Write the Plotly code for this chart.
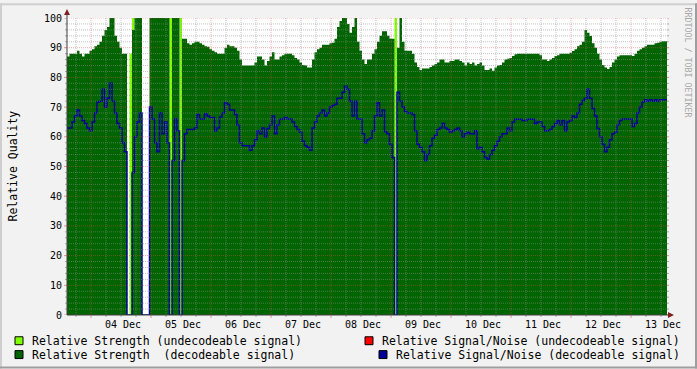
import plotly.graph_objects as go
import pandas as pd

# ---------------- data (hourly samples) ----------------
START = pd.Timestamp("2023-12-03 14:24")

strength_decodeable = [
    87, 88, 88, 88, 89, 88, 87, 88, 88, 89,
    89.5, 90.5, 91, 92, 94, 96, 97, 100, 100, 94,
    92, 90, 88, 88, 0, 0, 96, 100, 100, 100,
    0, 0, 0, 100, 100, 100, 100, 100, 100, 100,
    100, 0, 100, 100, 100, 0, 93, 93, 91.5, 91,
    91.5, 92, 92, 91.5, 91, 90.5, 90.3, 89.5, 89, 88.5,
    88, 88, 88, 90, 91, 90.5, 90.5, 90, 89, 86,
    84, 84, 84, 84, 84, 85, 87, 87, 86, 84,
    85.5, 87, 88.5, 86, 86, 87, 87.5, 88, 88, 88,
    87.5, 86.5, 86, 85, 84.2, 84, 83.3, 83.3, 86, 88.5,
    89.5, 90, 91, 91, 91, 91.5, 91.7, 93, 97, 99,
    100, 100, 98, 95, 97, 100, 92, 89, 86, 84.5,
    86, 86, 88, 89.5, 92, 94, 95.5, 95.5, 94, 93,
    93, 0, 90, 100, 92, 89, 89, 89, 88, 85,
    83.5, 82.5, 83, 83, 83, 83.5, 84, 84.5, 85, 86,
    86, 85, 85, 85.5, 85.5, 86, 86, 85.5, 85, 84,
    85, 84.5, 85, 84, 84.5, 85, 84, 82.5, 82.5, 83,
    82.2, 83.3, 84, 84.2, 85, 86, 86.3, 86.5, 87.2, 87.8,
    88, 88, 88, 88, 88, 88, 88, 88, 88, 87.5,
    86, 86, 85.5, 86, 86.5, 87.2, 87.5, 88, 88, 88,
    88, 88.3, 88.9, 89.5, 90.5, 91, 92, 96, 95, 93.9,
    91.5, 90, 88, 86, 84.2, 83.3, 82.8, 83.5, 85, 86,
    87, 87.5, 87.5, 87.5, 87.5, 87.5, 87.2, 88, 89, 89.5,
    90, 90.5, 91, 91, 91, 91.5, 91.7, 92, 92.2, 92.2,
]

snr_decodeable = [
    63, 63, 65, 67, 69, 67, 65.5, 64.5, 63, 62,
    65, 68, 71.7, 72, 76, 70, 73, 78, 72, 68,
    64.5, 63, 58, 55, 0, 0, 48, 60, 65, 68,
    0, 0, 0, 70, 66, 58, 55, 68, 61, 65,
    58, 0, 52, 66, 62, 0, 52, 61, 62.5, 62.5,
    62.5, 63, 67.5, 66, 66, 67.8, 67, 66.5, 66.5, 62,
    63, 66.7, 68, 71.5, 71, 69, 69, 67.5, 64, 58,
    57, 57, 57, 55.5, 57, 59, 62, 61, 63, 60,
    62.8, 64, 67, 61, 64, 66, 66, 66.5, 66, 66,
    65, 63.5, 62.5, 61.5, 58.5, 57, 56.5, 55.5, 63, 65,
    67, 68, 69, 67, 68, 70, 70.5, 71, 73, 73,
    75, 77, 76, 72, 67, 72, 66, 66, 61, 58,
    59, 59.5, 62, 67, 71.5, 67, 69, 61.7, 61, 57.5,
    53, 0, 75, 72, 70, 68.5, 68, 68, 67.5, 62,
    57.5, 56.5, 55, 52, 54, 57, 59.5, 60.5, 62.5, 63,
    64.5, 63, 62.5, 61.5, 62, 62.5, 63, 62, 60, 61,
    61.5, 61, 61, 62, 56, 56.5, 55, 53, 52.5, 54,
    55.5, 57, 58.5, 60, 61, 61, 63, 62, 65, 65.9,
    65.9, 65.9, 65.5, 65.5, 65.9, 65.9, 65.9, 64.5, 65, 65,
    63.5, 62, 62, 62.5, 63.5, 64.5, 65.5, 64, 65.5, 62,
    65, 65.5, 67, 66.5, 68, 71, 72.2, 73, 76, 73,
    69.5, 67, 62.8, 60, 57.5, 55, 56.5, 59, 61, 61.5,
    64, 65.5, 66, 66, 66, 66, 63.5, 64.5, 68, 70,
    71.7, 72.5, 72, 72.5, 72, 72.5, 72, 72.5, 72.5, 72.5,
]

undecodeable_hours = [25, 26, 41, 45, 131]
undecodeable_strength = [88, 100, 100, 100, 100]

day_labels = ["04 Dec", "05 Dec", "06 Dec", "07 Dec", "08 Dec",
              "09 Dec", "10 Dec", "11 Dec", "12 Dec", "13 Dec"]
y_ticks = [0, 10, 20, 30, 40, 50, 60, 70, 80, 90, 100]

legend_left = ["Relative Strength (undecodeable signal)",
               "Relative Strength  (decodeable signal)"]
legend_right = ["Relative Signal/Noise (undecodeable signal)",
                "Relative Signal/Noise (decodeable signal)"]

# ---------------- styling ----------------
W, H = 697, 369
PL, PR, PT, PB = 67, 667, 15, 315
MONO = "DejaVu Sans Mono"
C_DARK = "#006400"
C_LIGHT = "#80FF00"
C_BLUE = "#000099"
C_RED = "#FF0000"
C_GRID = "rgba(143,143,143,0.55)"
C_MGRID = "rgba(222,79,79,0.45)"
C_GRID_T = "rgba(143,143,143,0.75)"
C_MGRID_T = "rgba(222,79,79,0.6)"
C_AXIS = "#404040"
C_ARROW = "#801F1F"


def px(x):
    return (x - PL) / (PR - PL)


def py(y):
    return (PB - y) / (PB - PT)


n = len(strength_decodeable)
times = [START + pd.Timedelta(hours=k) for k in range(n)]
t_end = START + pd.Timedelta(hours=n)
x_ext = times + [t_end]

undec = [0.0] * n
for h, v in zip(undecodeable_hours, undecodeable_strength):
    undec[h] = v


def ext(vals):
    return list(vals) + [vals[-1]]


fig = go.Figure()
fig.add_trace(go.Scatter(x=x_ext, y=ext(undec), mode="lines", line=dict(width=0, shape="hv"),
                         fill="tozeroy", fillcolor=C_LIGHT, hoverinfo="skip", showlegend=False))
fig.add_trace(go.Scatter(x=x_ext, y=ext(strength_decodeable), mode="lines",
                         line=dict(width=0, shape="hv"),
                         fill="tozeroy", fillcolor=C_DARK, showlegend=False))
fig.add_trace(go.Scatter(x=x_ext, y=ext(snr_decodeable), mode="lines",
                         line=dict(width=1.5, shape="hv", color=C_BLUE), showlegend=False))

shapes = []
# grid (drawn above the data, as in rrdtool)
for v in range(2, 100, 2):
    if v % 10:
        shapes.append(dict(type="line", xref="paper", yref="y", x0=0, x1=1, y0=v, y1=v, layer="above",
                           line=dict(color=C_GRID, width=1, dash="1px,1px")))
        for a, b in ((px(PL - 2), 0), (1, px(PR + 2))):
            shapes.append(dict(type="line", xref="paper", yref="y", x0=a, x1=b, y0=v, y1=v,
                               layer="above", line=dict(color=C_GRID_T, width=1)))
for v in y_ticks[1:]:
    shapes.append(dict(type="line", xref="paper", yref="y", x0=0, x1=1, y0=v, y1=v, layer="above",
                       line=dict(color=C_MGRID, width=1, dash="1px,1px")))
for v in y_ticks:
    for a, b in ((px(PL - 3), 0), (1, px(PR + 2))):
        shapes.append(dict(type="line", xref="paper", yref="y", x0=a, x1=b, y0=v, y1=v,
                           layer="above", line=dict(color=C_MGRID_T, width=1)))

midnights = pd.date_range("2023-12-04", "2023-12-13", freq="D")
six_hours = pd.date_range("2023-12-03 18:00", "2023-12-13 12:00", freq="6h")
for t in six_hours:
    if t.hour != 0:
        shapes.append(dict(type="line", xref="x", yref="paper", x0=t, x1=t, y0=0, y1=1, layer="above",
                           line=dict(color=C_GRID, width=1, dash="1px,1px")))
        shapes.append(dict(type="line", xref="x", yref="paper", x0=t, x1=t, y0=py(PB + 2), y1=0,
                           layer="above", line=dict(color=C_GRID_T, width=1)))
for t in midnights:
    shapes.append(dict(type="line", xref="x", yref="paper", x0=t, x1=t, y0=0, y1=1, layer="above",
                       line=dict(color=C_MGRID, width=1, dash="1px,1px")))
    shapes.append(dict(type="line", xref="x", yref="paper", x0=t, x1=t, y0=py(PB + 3), y1=0,
                       layer="above", line=dict(color=C_MGRID_T, width=1)))

# axes with arrows
shapes.append(dict(type="line", xref="paper", yref="paper", x0=0, x1=0, y0=0, y1=py(11),
                   layer="above", line=dict(color=C_AXIS, width=1)))
shapes.append(dict(type="line", xref="paper", yref="paper", x0=0, x1=px(670), y0=0, y1=0,
                   layer="above", line=dict(color=C_AXIS, width=1)))
shapes.append(dict(type="path", xref="paper", yref="paper", layer="above",
                   path=f"M {px(64)},{py(12)} L {px(70)},{py(12)} L {px(67)},{py(6)} Z",
                   fillcolor=C_ARROW, line=dict(width=0)))
shapes.append(dict(type="path", xref="paper", yref="paper", layer="above",
                   path=f"M {px(668)},{py(312)} L {px(668)},{py(318)} L {px(674)},{py(315)} Z",
                   fillcolor=C_ARROW, line=dict(width=0)))

# outer shaded frame
shapes.append(dict(type="rect", xref="paper", yref="paper", x0=px(0), x1=px(W), y0=py(0), y1=py(2),
                   fillcolor="#CFCFCF", line=dict(width=0), layer="above"))
shapes.append(dict(type="rect", xref="paper", yref="paper", x0=px(0), x1=px(2), y0=py(0), y1=py(H),
                   fillcolor="#CFCFCF", line=dict(width=0), layer="above"))
shapes.append(dict(type="rect", xref="paper", yref="paper", x0=px(0), x1=px(W), y0=py(H - 2), y1=py(H),
                   fillcolor="#9E9E9E", line=dict(width=0), layer="above"))
shapes.append(dict(type="rect", xref="paper", yref="paper", x0=px(W - 2), x1=px(W), y0=py(0), y1=py(H),
                   fillcolor="#9E9E9E", line=dict(width=0), layer="above"))

# legend swatches
swatches = [(15, 337, C_LIGHT), (15, 351, C_DARK), (365, 337, C_RED), (379, 351, C_BLUE)]
for sx, sy, c in swatches:
    shapes.append(dict(type="rect", xref="paper", yref="paper", x0=px(sx), x1=px(sx + 8),
                       y0=py(sy), y1=py(sy + 8), fillcolor=c, line=dict(color="#000000", width=1),
                       layer="above"))

annotations = []
legend_pos = [(30, 341, legend_left[0]), (30, 355, legend_left[1]),
              (380, 341, legend_right[0]), (394, 355, legend_right[1])]
for lx, ly, txt in legend_pos:
    annotations.append(dict(text=txt, xref="paper", yref="paper", x=px(lx), y=py(ly),
                            xanchor="left", yanchor="middle", showarrow=False,
                            font=dict(family=MONO, size=11.5, color="#000000")))
annotations.append(dict(text="Relative Quality", xref="paper", yref="paper", x=px(12), y=py(165),
                        xanchor="center", yanchor="middle", textangle=-90, showarrow=False,
                        font=dict(family=MONO, size=11.5, color="#000000")))
annotations.append(dict(text="RRDTOOL / TOBI OETIKER", xref="paper", yref="paper", x=px(688), y=py(60),
                        xanchor="center", yanchor="middle", textangle=90, showarrow=False,
                        font=dict(family=MONO, size=8.3, color="#A8A8A8")))

fig.update_layout(
    width=W, height=H, autosize=False,
    margin=dict(l=PL, r=W - PR, t=PT, b=H - PB, pad=0),
    paper_bgcolor="#F2F2F2", plot_bgcolor="#FFFFFF",
    showlegend=False,
    shapes=shapes, annotations=annotations,
    xaxis=dict(type="date", range=[START, t_end], showgrid=False, zeroline=False, showline=False,
               ticks="", tickvals=list(midnights), ticktext=day_labels, ticklabelshift=32,
               ticklabelstandoff=2, tickfont=dict(family=MONO, size=10, color="#000000")),
    yaxis=dict(range=[0, 100], showgrid=False, zeroline=False, showline=False, ticks="",
               tickvals=y_ticks, ticktext=[str(v) for v in y_ticks], ticklabelstandoff=4,
               tickfont=dict(family=MONO, size=10, color="#000000")),
)

fig.write_html("out.html")
